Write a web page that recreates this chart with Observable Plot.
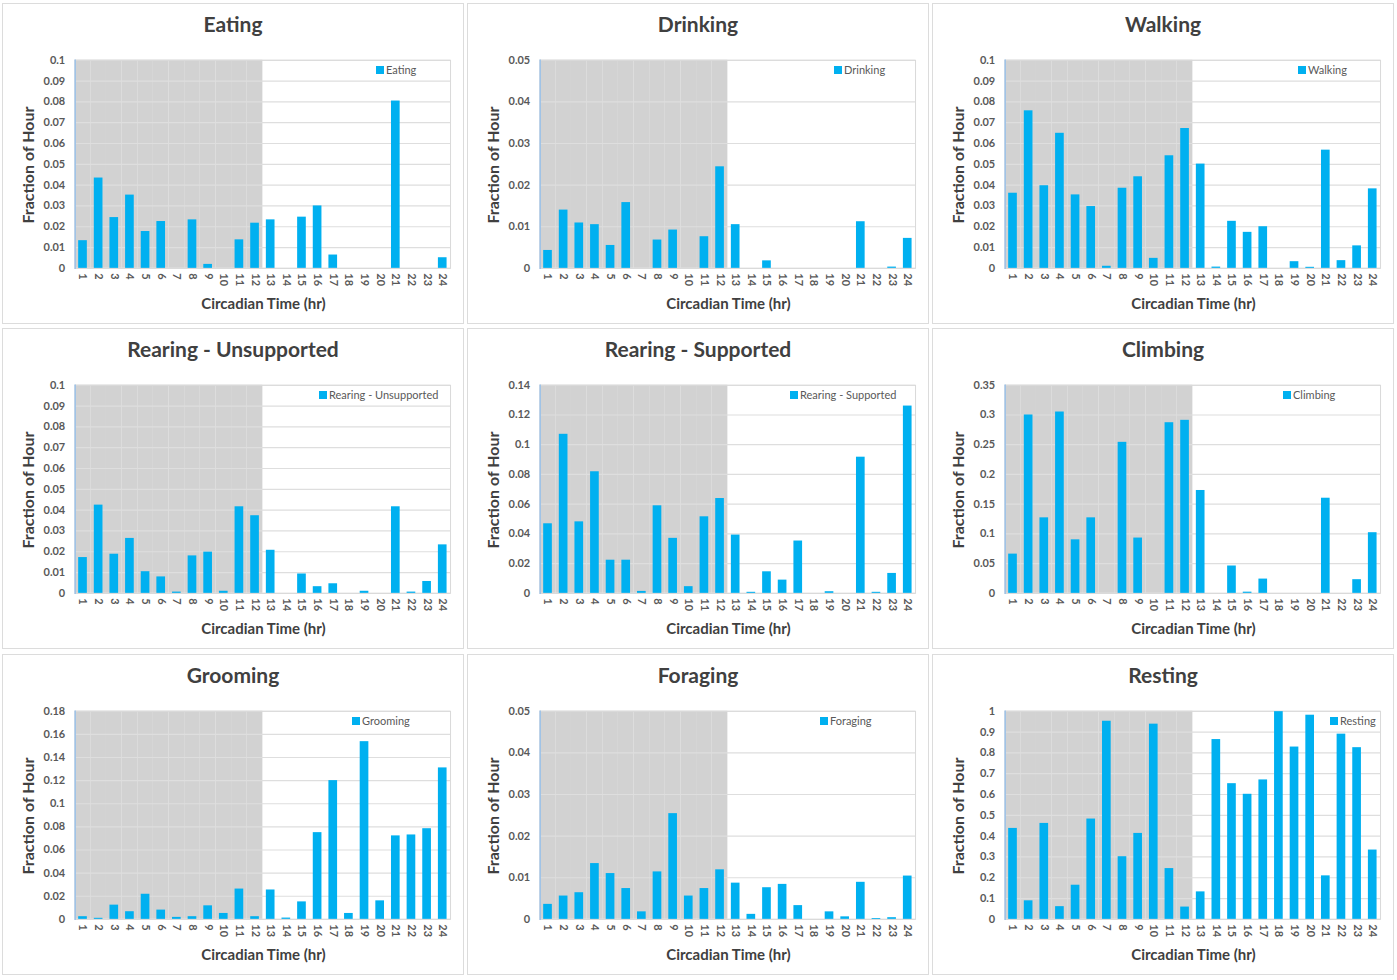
<!DOCTYPE html>
<html>
<head>
<meta charset="utf-8">
<script src="https://cdn.jsdelivr.net/npm/d3@7"></script>
<script src="https://cdn.jsdelivr.net/npm/@observablehq/plot@0.6"></script>
<style>
  html, body { margin: 0; padding: 0; background: #fff; }
  #fig { position: relative; width: 1397px; height: 980px; background: #fff; font-family: Lato, "Open Sans", sans-serif; }
  .panel { position: absolute; width: 462px; height: 321px; border: 1px solid #dcdcdc; box-sizing: border-box; background: #fff; }
  .panel svg { position: absolute; left: -1px; top: -1px; }
  .title { position: absolute; left: 0; width: 100%; top: 7px; text-align: center; font-weight: bold; font-size: 21px; color: #404040; }
  .ylab { position: absolute; width: 200px; height: 20px; line-height: 20px; text-align: center; font-weight: bold; font-size: 16px; color: #404040; transform: rotate(-90deg); }
  .xlab { position: absolute; width: 300px; height: 20px; line-height: 20px; text-align: center; font-weight: bold; font-size: 15px; color: #404040; }
  .legend { position: absolute; display: flex; align-items: center; font-size: 11px; color: #595959; white-space: nowrap; }
  .legend .sw { width: 8px; height: 8px; background: #00b0f0; margin-right: 2px; }
</style>
</head>
<body>
<div id="fig"></div>
<script>
// ---- data ----
const hours = [1,2,3,4,5,6,7,8,9,10,11,12,13,14,15,16,17,18,19,20,21,22,23,24];
const behaviours = ["Eating","Drinking","Walking","Rearing - Unsupported","Rearing - Supported","Climbing","Grooming","Foraging","Resting"];

const eating   = [0.0133,0.0434,0.0244,0.0352,0.0177,0.0225,0,0.0233,0.0019,0,0.0137,0.0217,0.0233,0,0.0246,0.0300,0.0064,0,0,0,0.0804,0,0,0.0051];
const drinking = [0.0043,0.0140,0.0109,0.0105,0.0055,0.0158,0,0.0068,0.0092,0,0.0076,0.0244,0.0105,0,0.0018,0,0,0,0,0,0.0112,0,0.0003,0.0072];
const walking  = [0.0361,0.0757,0.0397,0.0649,0.0353,0.0297,0.0010,0.0385,0.0440,0.0048,0.0541,0.0672,0.0501,0.0006,0.0226,0.0173,0.0200,0,0.0032,0.0005,0.0568,0.0037,0.0108,0.0382];
const rearingUnsupported = [0.0172,0.0424,0.0188,0.0264,0.0104,0.0079,0.0006,0.0180,0.0198,0.0010,0.0416,0.0373,0.0207,0,0.0093,0.0032,0.0046,0,0.0010,0,0.0416,0.0006,0.0057,0.0233];
const rearingSupported   = [0.0468,0.1070,0.0481,0.0818,0.0223,0.0223,0.0013,0.0589,0.0370,0.0045,0.0515,0.0638,0.0392,0.0007,0.0145,0.0089,0.0352,0,0.0011,0,0.0916,0.0007,0.0134,0.1260];
const climbing = [0.066,0.300,0.127,0.305,0.090,0.127,0,0.254,0.093,0,0.287,0.291,0.173,0,0.046,0.002,0.024,0,0,0,0.160,0,0.023,0.102];
const grooming = [0.0023,0.0009,0.0123,0.0066,0.0217,0.0080,0.0017,0.0023,0.0117,0.0051,0.0262,0.0023,0.0254,0.0011,0.0151,0.0750,0.1200,0.0051,0.1537,0.0160,0.0722,0.0730,0.0784,0.1310];
const foraging = [0.0036,0.0056,0.0064,0.0134,0.0110,0.0074,0.0018,0.0114,0.0254,0.0056,0.0074,0.0119,0.0087,0.0012,0.0076,0.0084,0.0033,0,0.0018,0.0006,0.0089,0.0002,0.0004,0.0104];
const resting  = [0.437,0.089,0.461,0.061,0.164,0.482,0.952,0.301,0.413,0.938,0.244,0.059,0.132,0.864,0.652,0.601,0.670,0.998,0.828,0.981,0.209,0.890,0.825,0.333];

// y-axis tick labels per panel
const yTicksEating   = [0,0.01,0.02,0.03,0.04,0.05,0.06,0.07,0.08,0.09,0.1];
const yTicksDrinking = [0,0.01,0.02,0.03,0.04,0.05];
const yTicksWalking  = [0,0.01,0.02,0.03,0.04,0.05,0.06,0.07,0.08,0.09,0.1];
const yTicksRU       = [0,0.01,0.02,0.03,0.04,0.05,0.06,0.07,0.08,0.09,0.1];
const yTicksRS       = [0,0.02,0.04,0.06,0.08,0.1,0.12,0.14];
const yTicksClimbing = [0,0.05,0.1,0.15,0.2,0.25,0.3,0.35];
const yTicksGrooming = [0,0.02,0.04,0.06,0.08,0.1,0.12,0.14,0.16,0.18];
const yTicksForaging = [0,0.01,0.02,0.03,0.04,0.05];
const yTicksResting  = [0,0.1,0.2,0.3,0.4,0.5,0.6,0.7,0.8,0.9,1];

const darkHours = hours.slice(0, 12);

const series = [eating, drinking, walking, rearingUnsupported, rearingSupported, climbing, grooming, foraging, resting];
const yTicks = [yTicksEating, yTicksDrinking, yTicksWalking, yTicksRU, yTicksRS, yTicksClimbing, yTicksGrooming, yTicksForaging, yTicksResting];

// ---- layout (not data) ----
const colLeft = [2, 467, 932];
const rowTop = [3, 328, 654];
const legendLeft = [373, 366, 365, 316, 322, 350, 349, 352, 397];
const W = 462, H = 321, mL = 73, mR = 12, mT = 57, mB = 55;

const fig = document.getElementById("fig");

series.forEach((vals, i) => {
  const col = i % 3, row = Math.floor(i / 3);
  const div = document.createElement("div");
  div.className = "panel";
  div.style.left = colLeft[col] + "px";
  div.style.top = rowTop[row] + "px";

  const data = hours.map((h, k) => ({hour: h, value: vals[k]}));
  const ticks = yTicks[i];
  const yMax = ticks[ticks.length - 1];

  const chart = Plot.plot({
    width: W, height: H,
    marginLeft: mL, marginRight: mR, marginTop: mT, marginBottom: mB,
    style: {fontFamily: "Lato, 'Open Sans', sans-serif", fontSize: "11px", fontWeight: "bold", color: "#595959", background: "transparent"},
    x: {type: "band", domain: hours, padding: 0, round: false},
    y: {domain: [0, yMax], nice: false},
    marks: [
      Plot.barY(darkHours, {x: d => d, y1: 0, y2: yMax, fill: "#d2d2d2"}),
      Plot.ruleY(ticks, {stroke: "#dedede", strokeWidth: 1.2}),
      Plot.frame({stroke: "#d9d9d9"}),
      Plot.frame({anchor: "left", stroke: "#9cc2e8", strokeWidth: 1.5}),
      Plot.barY(data, {x: "hour", y: "value", fill: "#00b0f0", insetLeft: 3.5, insetRight: 3.5}),
      Plot.axisY({ticks, tickFormat: d => String(+d.toFixed(4)), tickSize: 0, tickPadding: 10, label: null}),
      Plot.axisX({tickSize: 0, tickRotate: 90, tickPadding: 5, label: null})
    ]
  });
  div.appendChild(chart);

  const title = document.createElement("div");
  title.className = "title";
  title.textContent = behaviours[i];
  div.appendChild(title);

  const cy = mT + (H - mT - mB) / 2 - 1;
  const ylab = document.createElement("div");
  ylab.className = "ylab";
  ylab.textContent = "Fraction of Hour";
  ylab.style.left = (25 - 100) + "px";
  ylab.style.top = (cy - 10) + "px";
  div.appendChild(ylab);

  const cx = mL + (W - mL - mR) / 2 - 1;
  const xlab = document.createElement("div");
  xlab.className = "xlab";
  xlab.textContent = "Circadian Time (hr)";
  xlab.style.left = (cx - 150) + "px";
  xlab.style.top = (H - 32) + "px";
  div.appendChild(xlab);

  const leg = document.createElement("div");
  leg.className = "legend";
  leg.style.left = legendLeft[i] + "px";
  leg.style.top = (mT + 2) + "px";
  leg.innerHTML = '<span class="sw"></span><span></span>';
  leg.lastChild.textContent = behaviours[i];
  div.appendChild(leg);

  fig.appendChild(div);
});
</script>
</body>
</html>
